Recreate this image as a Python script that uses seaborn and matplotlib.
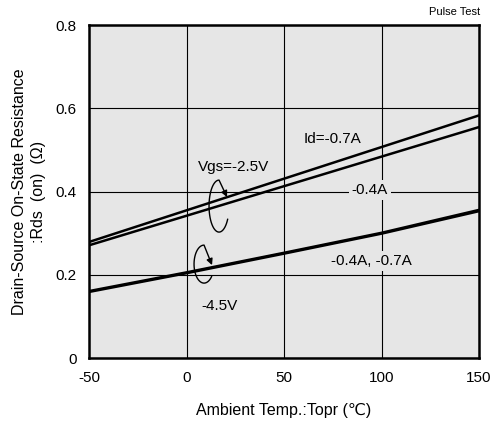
import numpy as np
import pandas as pd
import seaborn as sns
import matplotlib.pyplot as plt
from matplotlib.patches import FancyArrowPatch
from matplotlib.path import Path

# Values
temps = [-50, 0, 50, 100, 150]
rds_25v_07a = [0.279, 0.355, 0.431, 0.507, 0.583]
rds_25v_04a = [0.271, 0.342, 0.413, 0.484, 0.555]
rds_45v_07a = [0.161, 0.206, 0.253, 0.301, 0.356]
rds_45v_04a = [0.159, 0.204, 0.251, 0.299, 0.353]

x_ticks = [-50, 0, 50, 100, 150]
y_ticks = [0, 0.2, 0.4, 0.6, 0.8]
y_tick_labels = ["0", "0.2", "0.4", "0.6", "0.8"]

sns.set_style("white")
plt.rcParams['font.family'] = ['Liberation Sans', 'DejaVu Sans']
plt.rcParams['axes.unicode_minus'] = False
plt.rcParams['text.color'] = 'black'
plt.rcParams['axes.labelcolor'] = 'black'
plt.rcParams['xtick.color'] = 'black'
plt.rcParams['ytick.color'] = 'black'

fig = plt.figure(figsize=(4.92, 4.32), dpi=100)
ax = fig.add_axes([0.181, 0.171, 0.7926, 0.771])
ax.set_facecolor('#e6e6e6')

for vals in [rds_25v_07a, rds_25v_04a, rds_45v_07a, rds_45v_04a]:
    df = pd.DataFrame({'temp': temps, 'rds': vals})
    sns.lineplot(data=df, x='temp', y='rds', ax=ax, color='black', linewidth=1.8)

ax.set_xlim(-50, 150)
ax.set_ylim(0, 0.8)
ax.set_xticks(x_ticks)
ax.set_yticks(y_ticks)
ax.set_yticklabels(y_tick_labels)
ax.tick_params(length=0, labelsize=11, pad=9)
ax.grid(True, color='black', linewidth=0.8)
ax.set_axisbelow(True)
for s in ax.spines.values():
    s.set_color('black')
    s.set_linewidth(1.8)

ax.set_xlabel('Ambient Temp.:Topr (\u2103)', fontsize=11.5, labelpad=13)
ax.set_ylabel('Drain-Source On-State Resistance\n:Rds  (on)  (\u03a9)', fontsize=11.5,
              labelpad=7, linespacing=1.3)

bg = dict(facecolor='#e6e6e6', edgecolor='none', pad=2)
ax.text(75, 0.526, 'Id=-0.7A', fontsize=11, ha='center', va='center')
ax.text(94, 0.404, '-0.4A', fontsize=11, ha='center', va='center', bbox=bg)
ax.text(95, 0.233, '-0.4A, -0.7A', fontsize=11, ha='center', va='center', bbox=bg)
ax.text(24, 0.459, 'Vgs=-2.5V', fontsize=11, ha='center', va='center')
ax.text(17, 0.125, '-4.5V', fontsize=11, ha='center', va='center')
fig.text(0.975, 0.973, 'Pulse Test', fontsize=8, ha='right', va='center')


def px_to_data(px, py):
    return ((px - 89) / 390 * 200 - 50, (358 - py) / 333 * 0.8)


def loop_arrow(cx, cy, rx, ry, t_start, t_end, tip):
    t = np.linspace(np.radians(t_start), np.radians(t_end), 40)
    pts = [px_to_data(cx + rx * np.cos(a), cy - ry * np.sin(a)) for a in t]
    pts.append(px_to_data(*tip))
    arr = FancyArrowPatch(path=Path(pts), arrowstyle='-|>', mutation_scale=9,
                          color='black', linewidth=1.0)
    ax.add_patch(arr)


# curl arrows, drawn from the open end round to the tip
loop_arrow(219, 206, 10, 26, -30, -270, (227, 197))
loop_arrow(204, 264, 10, 19, -40, -270, (212, 265))

fig.savefig('out.png', dpi=100)
